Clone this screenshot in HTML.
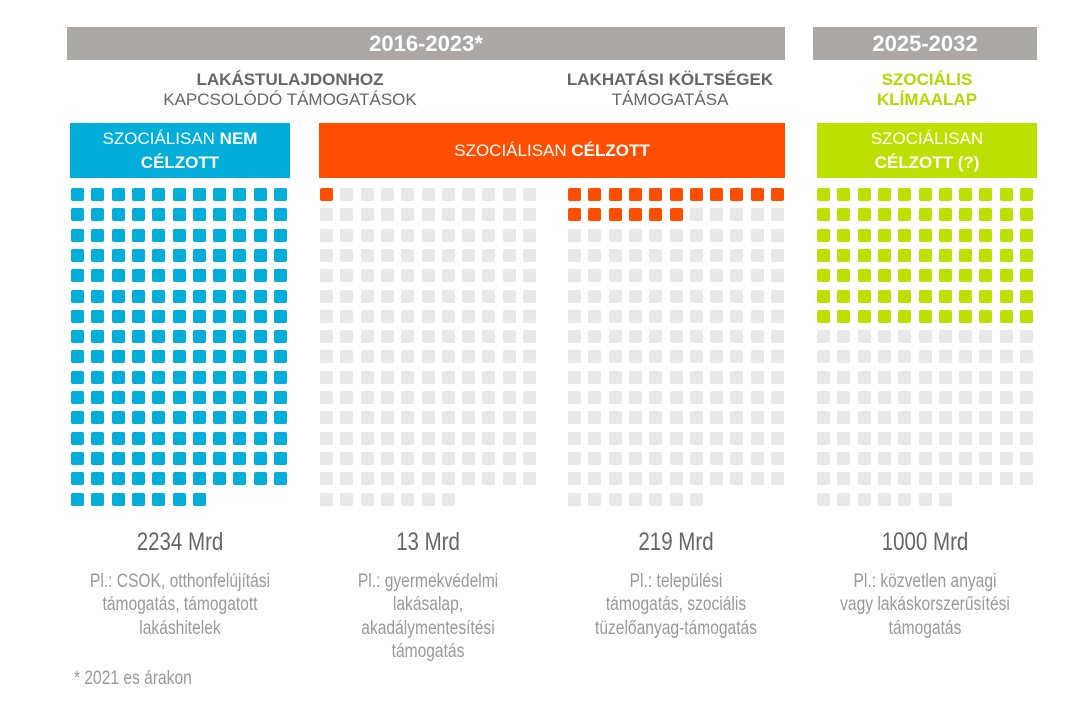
<!DOCTYPE html>
<html><head><meta charset="utf-8"><style>
body{margin:0;width:1087px;height:703px;background:#fff;position:relative;overflow:hidden;font-family:"Liberation Sans",sans-serif}
.a{position:absolute}
.bar{background:#aaa7a5;color:#fff;font-weight:bold;font-size:22px;text-align:center;line-height:33px}
.hd{text-align:center;font-size:17px;color:#666;line-height:20px}
.box{color:#fff;text-align:center;font-size:17px;line-height:24px;box-sizing:border-box}
.sq{position:absolute;width:13px;height:13px;border-radius:2px;background:#e8e8e8}
.t{position:absolute;width:300px;text-align:center;color:#666;transform:scaleX(0.82);transform-origin:center}
.num{font-size:25px;color:#666}
.d{font-size:19px;line-height:23.3px;color:#999}
</style></head><body>
<div class="a bar" style="left:67px;top:27px;width:718px;height:33px">2016-2023*</div>
<div class="a bar" style="left:813px;top:27px;width:224px;height:33px">2025-2032</div>
<div class="a hd" style="left:100px;top:70px;width:380px;"><b>LAKÁSTULAJDONHOZ</b><br>KAPCSOLÓDÓ TÁMOGATÁSOK</div>
<div class="a hd" style="left:520px;top:70px;width:300px;"><b>LAKHATÁSI KÖLTSÉGEK</b><br>TÁMOGATÁSA</div>
<div class="a hd" style="left:827px;top:70px;width:200px;color:#b5d600"><b>SZOCIÁLIS<br>KLÍMAALAP</b></div>
<div class="a box" style="left:70px;top:123px;width:220px;height:55px;padding-top:4px;background:#00aed9">SZOCIÁLISAN <b>NEM</b><br><b>CÉLZOTT</b></div>
<div class="a box" style="left:319px;top:123px;width:466px;height:55px;padding-top:16px;background:#ff4e00">SZOCIÁLISAN <b>CÉLZOTT</b></div>
<div class="a box" style="left:817px;top:123px;width:220px;height:55px;padding-top:4px;background:#bde000">SZOCIÁLISAN<br><b>CÉLZOTT (?)</b></div>
<div id="g"></div>
<div class="t num" style="left:30px;top:528px">2234 Mrd</div>
<div class="t num" style="left:278px;top:528px">13 Mrd</div>
<div class="t num" style="left:526px;top:528px">219 Mrd</div>
<div class="t num" style="left:775px;top:528px">1000 Mrd</div>
<div class="t d" style="left:30px;top:570px">Pl.: CSOK, otthonfelújítási<br>támogatás, támogatott<br>lakáshitelek</div>
<div class="t d" style="left:278px;top:570px">Pl.: gyermekvédelmi<br>lakásalap,<br>akadálymentesítési<br>támogatás</div>
<div class="t d" style="left:526px;top:570px">Pl.: települési<br>támogatás, szociális<br>tüzelőanyag-támogatás</div>
<div class="t d" style="left:775px;top:570px">Pl.: közvetlen anyagi<br>vagy lakáskorszerűsítési<br>támogatás</div>
<div class="a d" style="left:74px;top:667px;transform:scaleX(0.82);transform-origin:left">* 2021 es árakon</div>
<script>
var g=document.getElementById('g'),h='';
var cfg=[[71,'#00aed9',999],[320,'#ff4e00',1],[568,'#ff4e00',17],[817,'#bde000',77]];
cfg.forEach(function(c){var n=0;for(var r=0;r<16;r++)for(var k=0;k<11;k++){if(r==15&&k>6)continue;var col=n<c[2]?c[1]:'#e8e8e8';n++;
h+='<div class="sq" style="left:'+(c[0]+k*20.3).toFixed(1)+'px;top:'+(188+r*20.3).toFixed(1)+'px;background:'+col+'"></div>';}});
g.innerHTML=h;
</script>
</body></html>
